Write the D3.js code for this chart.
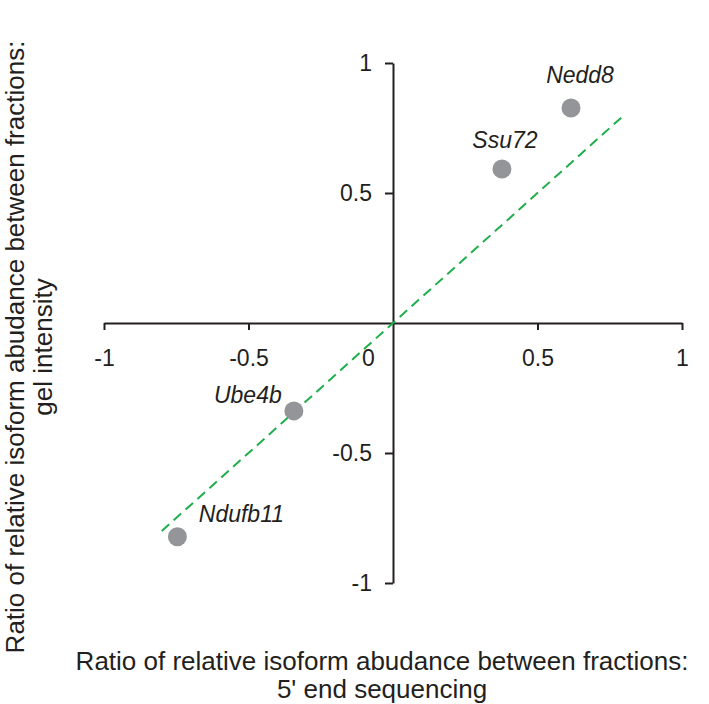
<!DOCTYPE html>
<html>
<head>
<meta charset="utf-8">
<script src="https://cdn.jsdelivr.net/npm/d3@7"></script>
<style>
  html, body { margin: 0; padding: 0; background: #fff; }
  svg text { font-family: "Liberation Sans", Arial, Helvetica, sans-serif; fill: #231f20; }
</style>
</head>
<body>
<svg id="chart" width="709" height="704"></svg>
<script>
// ---- data ----
const genes = ["Nedd8", "Ssu72", "Ube4b", "Ndufb11"];
const xValues = [0.616, 0.377, -0.343, -0.746];
const yValues = [0.827, 0.592, -0.338, -0.822];
const fitX = [-0.8, 0.8];
const fitY = [-0.8, 0.8];
const xTicks = [-1, -0.5, 0, 0.5, 1];
const yTicks = [-1, -0.5, 0.5, 1];
const xTitle = ["Ratio of relative isoform abudance between fractions:", "5' end sequencing"];
const yTitle = ["Ratio of relative isoform abudance between fractions:", "gel intensity"];

// ---- layout ----
const svg = d3.select("#chart");
const x = d3.scaleLinear().domain([-1, 1]).range([104, 682]);
const y = d3.scaleLinear().domain([-1, 1]).range([583, 63]);
const labelOffset = { Nedd8: [9, -25], Ssu72: [3, -21], Ube4b: [-46, -8], Ndufb11: [64, -15] };
const fmt = d => d === 0 ? "0" : String(d);

// x axis
const gx = svg.append("g").attr("transform", `translate(0,${y(0)})`)
  .call(d3.axisBottom(x).tickValues(xTicks).tickSize(7).tickSizeOuter(0).tickPadding(20).tickFormat(fmt));
gx.selectAll("text").attr("font-size", 23).attr("dx", d => d === 0 ? -25 : 0);
gx.selectAll("line, path").attr("stroke", "#231f20").attr("stroke-width", 2);
gx.selectAll(".tick").filter(d => d === 0).select("line").remove();

// y axis
const gy = svg.append("g").attr("transform", `translate(${x(0)},0)`)
  .call(d3.axisLeft(y).tickValues(yTicks).tickSize(8).tickSizeOuter(0).tickPadding(13).tickFormat(fmt));
gy.selectAll("text").attr("font-size", 23);
gy.selectAll("line, path").attr("stroke", "#231f20").attr("stroke-width", 2);

// trend line
svg.append("line")
  .attr("x1", x(fitX[0])).attr("y1", y(fitY[0]))
  .attr("x2", x(fitX[1])).attr("y2", y(fitY[1]))
  .attr("stroke", "#1fae4b").attr("stroke-width", 2).attr("stroke-dasharray", "10,6");

// points
const pts = genes.map((g, i) => ({ g, x: xValues[i], y: yValues[i] }));
svg.append("g").selectAll("circle").data(pts).join("circle")
  .attr("cx", d => x(d.x)).attr("cy", d => y(d.y)).attr("r", 9.5)
  .attr("fill", "#939598");
svg.append("g").selectAll("text").data(pts).join("text")
  .attr("x", d => x(d.x) + labelOffset[d.g][0])
  .attr("y", d => y(d.y) + labelOffset[d.g][1])
  .attr("text-anchor", "middle").attr("font-size", 23).attr("font-style", "italic")
  .text(d => d.g);

// axis titles
svg.append("text").attr("text-anchor", "middle").attr("font-size", 26)
  .selectAll("tspan").data(xTitle).join("tspan")
  .attr("x", 382).attr("y", (d, i) => 670 + i * 28).text(d => d);
svg.append("text").attr("text-anchor", "middle").attr("font-size", 26)
  .attr("transform", "translate(0,347) rotate(-90)")
  .selectAll("tspan").data(yTitle).join("tspan")
  .attr("x", 0).attr("y", (d, i) => 24 + i * 28).text(d => d);
</script>
</body>
</html>
